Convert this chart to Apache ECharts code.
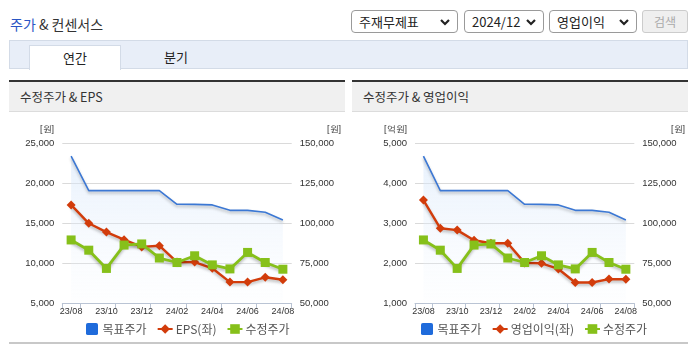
<!DOCTYPE html>
<html>
<head>
<meta charset="utf-8">
<script src="https://cdn.jsdelivr.net/npm/echarts@6/dist/echarts.min.js"></script>
<style>
html,body{margin:0;padding:0;background:#fff;width:695px;height:349px;overflow:hidden;font-family:"Noto Sans CJK KR","Noto Sans",sans-serif;}
.abs{position:absolute;}
#title{left:10px;top:14px;font-size:14px;color:#333;letter-spacing:0px;}
#title .b{color:#2a55c4;}
.sel{position:absolute;top:10px;height:23px;box-sizing:border-box;border:1px solid #9a9a9a;border-radius:4px;background:#fff;font-size:13px;color:#222;line-height:21px;padding-left:7px;}
.sel svg{position:absolute;right:7px;top:7px;}
#btn{position:absolute;left:642px;top:10px;width:46px;height:23px;box-sizing:border-box;border:1px solid #ccc;border-radius:3px;background:#efefef;color:#aaa;font-size:12px;text-align:center;line-height:21px;}
#tabbar{left:9px;top:40px;width:679px;height:29px;box-sizing:border-box;background:#e8eef8;border:1px solid #d3dbe7;}
#tab1{left:29px;top:45px;width:92px;height:25px;box-sizing:border-box;background:#fff;border:1px solid #d3dbe7;border-bottom:none;font-size:13px;color:#222;text-align:center;line-height:24px;}
#tab2{left:150px;top:45px;width:52px;height:24px;font-size:13px;color:#222;text-align:center;line-height:24px;}
.ph{position:absolute;top:80px;height:32px;box-sizing:border-box;background:#f0f0f0;border-top:2px solid #333;border-bottom:1px solid #dcdcdc;font-size:12.5px;color:#333;line-height:29px;padding-left:11px;}
#bottom{left:9px;top:342px;width:679px;height:2px;background:#c8c8c8;}
#c1{left:9px;top:112px;width:336px;height:231px;}
#c2{left:352px;top:112px;width:336px;height:231px;}
</style>
</head>
<body>
<div id="title" class="abs"><span class="b">주가</span> &amp; 컨센서스</div>
<div class="sel" style="left:351px;width:107px;">주재무제표<svg width="10" height="8" viewBox="0 0 10 8"><path d="M1 2 L5 6 L9 2" stroke="#222" stroke-width="2.2" fill="none"/></svg></div>
<div class="sel" style="left:464px;width:80px;">2024/12<svg width="10" height="8" viewBox="0 0 10 8"><path d="M1 2 L5 6 L9 2" stroke="#222" stroke-width="2.2" fill="none"/></svg></div>
<div class="sel" style="left:549px;width:88px;">영업이익<svg width="10" height="8" viewBox="0 0 10 8"><path d="M1 2 L5 6 L9 2" stroke="#222" stroke-width="2.2" fill="none"/></svg></div>
<div id="btn">검색</div>
<div id="tabbar" class="abs"></div>
<div id="tab1" class="abs">연간</div>
<div id="tab2" class="abs">분기</div>
<div class="ph" style="left:9px;width:336px;">수정주가 &amp; EPS</div>
<div class="ph" style="left:352px;width:336px;">수정주가 &amp; 영업이익</div>
<div id="c1" class="abs"></div>
<div id="c2" class="abs"></div>
<div id="bottom" class="abs"></div>
<script>
const categories = ['23/08','23/09','23/10','23/11','23/12','24/01','24/02','24/03','24/04','24/05','24/06','24/07','24/08'];
const targetPrice = [142000,120400,120400,120400,120400,120400,111900,111800,111500,108100,108100,106900,102100];
const adjPrice = [89600,83200,71800,86400,87100,78300,75500,79700,74000,71500,81800,75500,71300];
const eps = [17300,15000,13900,12950,12050,12200,10150,10150,9380,7650,7650,8250,7950];
const opProfit = [3580,2875,2830,2575,2500,2500,2010,2000,1858,1520,1520,1605,1600];
const epsTicks = {min:5000, max:25000, interval:5000};
const opTicks = {min:1000, max:5000, interval:1000};
const priceTicks = {min:50000, max:150000, interval:25000};

const AXFONT = '"Liberation Sans", Arial, sans-serif';
const fmt = v => v.toLocaleString('en-US');

function build(el, leftName, leftData, leftTicks, leftUnit, gridLeft, gridWidth, legendLeft, unitL, unitR) {
  const chart = echarts.init(document.getElementById(el), null, {renderer:'canvas'});
  const shadow = {shadowColor:'rgba(0,0,0,0.28)', shadowBlur:3, shadowOffsetY:2};
  chart.setOption({
    animation:false,
    grid:{left:gridLeft, top:31.3, width:gridWidth, height:160},
    legend:{
      left:legendLeft, top:206, itemWidth:15, itemHeight:12, itemGap:10,
      textStyle:{fontSize:12, color:'#555', fontFamily:'"Noto Sans CJK KR", sans-serif', padding:[0,0,0,-2]},
      data:[
        {name:'목표주가', icon:'path://M2,0 h9 a2,2 0 0 1 2,2 v9 a2,2 0 0 1 -2,2 h-9 a2,2 0 0 1 -2,-2 v-9 a2,2 0 0 1 2,-2z'},
        {name:leftName},
        {name:'수정주가'}
      ]
    },
    graphic:[
      {type:'text', left:unitL, top:13, style:{text:leftUnit, fontSize:9, fill:'#333', font:'9px '+AXFONT}},
      {type:'text', left:unitR, top:13, style:{text:'[원]', fontSize:9, fill:'#333', font:'9px '+AXFONT}}
    ],
    xAxis:{
      type:'category', data:categories, boundaryGap:true,
      axisLine:{lineStyle:{color:'#b9c3d3'}},
      axisTick:{show:true, length:5, lineStyle:{color:'#b9c3d3'}, interval:(i)=> i===0 || i%2===1},
      axisLabel:{interval:1, fontSize:9, color:'#333', fontFamily:AXFONT, margin:4}
    },
    yAxis:[
      {type:'value', min:leftTicks.min, max:leftTicks.max, interval:leftTicks.interval,
       axisLine:{show:false}, axisTick:{show:false},
       splitLine:{lineStyle:{color:'#dadada'}},
       axisLabel:{fontSize:9.5, color:'#333', fontFamily:AXFONT, margin:8, formatter:fmt}},
      {type:'value', min:priceTicks.min, max:priceTicks.max, interval:priceTicks.interval,
       axisLine:{show:false}, axisTick:{show:false}, splitLine:{show:false},
       axisLabel:{fontSize:9.5, color:'#333', fontFamily:AXFONT, margin:8, formatter:fmt}}
    ],
    series:[
      {name:'목표주가', type:'line', yAxisIndex:1, data:targetPrice, symbol:'none', z:1,
       itemStyle:{color:'#1f6bdb'},
       lineStyle:Object.assign({color:'#3c78d4', width:1.6}, shadow),
       areaStyle:{color:new echarts.graphic.LinearGradient(0,0,0,1,[{offset:0,color:'rgba(210,228,250,0.75)'},{offset:1,color:'rgba(240,246,253,0.15)'}])}},
      {name:leftName, type:'line', yAxisIndex:0, data:leftData, symbol:'diamond', symbolSize:9, z:3,
       itemStyle:{color:'#d23c0b'},
       lineStyle:Object.assign({color:'#d23c0b', width:2.4}, shadow)},
      {name:'수정주가', type:'line', yAxisIndex:1, data:adjPrice, symbol:'rect', symbolSize:9, z:4,
       itemStyle:{color:'#86c01a'},
       lineStyle:Object.assign({color:'#86c01a', width:2.8}, shadow)}
    ]
  });
}
build('c1','EPS(좌)', eps, epsTicks, '[원]', 53.3, 229.4, 72, 31, 318);
build('c2','영업이익(좌)', opProfit, opTicks, '[억원]', 63, 219.3, 64, 32, 319);
</script>
</body>
</html>
